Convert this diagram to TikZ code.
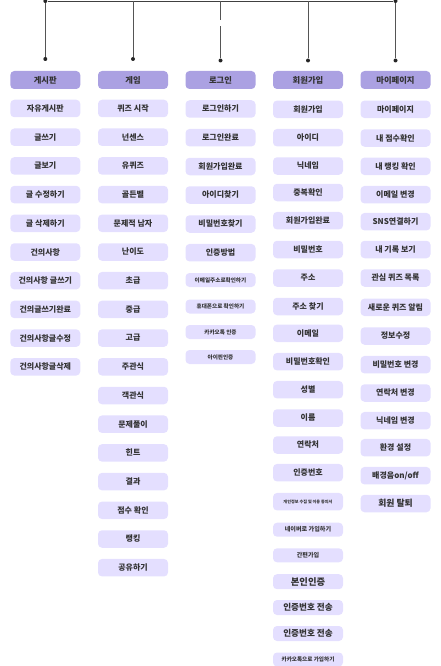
\documentclass[tikz,border=0pt]{standalone}
\usepackage{fontspec}
\setmainfont{Noto Sans CJK KR}
\definecolor{hdrfill}{HTML}{ABA1E2}
\definecolor{itmfill}{HTML}{E4DFFF}
\definecolor{txt}{HTML}{333333}
\definecolor{linec}{HTML}{555555}
\begin{document}
\begin{tikzpicture}[x=1pt,y=-1pt,
  base/.style={rectangle, rounded corners=4pt, minimum width=70pt, inner sep=0pt, text=txt, font=\fontsize{8}{9}\selectfont\bfseries},
  hdr/.style={base, fill=hdrfill, minimum height=18pt, font=\fontsize{8.3}{9}\selectfont\bfseries},
  itm/.style={base, fill=itmfill, minimum height=17.5pt},
  sm/.style={itm, minimum height=14pt, font=\fontsize{5.6}{6}\selectfont\bfseries},
  tiny/.style={itm, font=\fontsize{4.1}{5}\selectfont\bfseries},
  big/.style={itm, minimum height=15pt, font=\fontsize{8.6}{9}\selectfont\bfseries},
  dot/.style={circle, fill=black!85, inner sep=0pt, minimum size=4pt},
  conn/.style={draw=linec, line width=0.9pt}
]
\useasboundingbox (0,0) rectangle (441,666);

% connectors
\node[dot] (t1) at (45.3,1) {};
\node[dot] (t5) at (395.5,1) {};
\coordinate (t2) at (133,1);
\coordinate (t3) at (220.5,1);
\coordinate (t4) at (308,1);
\coordinate (g1) at (220.5,20.5);
\coordinate (g2) at (220.5,26.5);
\node[dot] (d1) at (45.3,59) {};
\node[dot] (d2) at (133,59) {};
\node[dot] (d3) at (220.5,60.5) {};
\node[dot] (d4) at (308,60.5) {};
\node[dot] (d5) at (395.5,60.5) {};
\draw[draw=black!75, line width=0.9pt] (t1) -- (t5);
\draw[conn] (t1) -- (d1);
\draw[conn] (t2) -- (d2);
\draw[conn] (t3) -- (g1);
\draw[conn] (g2) -- (d3);
\draw[conn] (t4) -- (d4);
\draw[conn] (t5) -- (d5);

% headers
\node[hdr] (h1) at (45.3,80) {게시판};
\node[hdr] (h2) at (133,80) {게임};
\node[hdr] (h3) at (220.5,80) {로그인};
\node[hdr] (h4) at (308,80) {회원가입};
\node[hdr] (h5) at (395.5,80) {마이페이지};

% column 1
\node[itm] (a1) at (45.3,108.5) {자유게시판};
\node[itm] (a2) at (45.3,137.2) {글쓰기};
\node[itm] (a3) at (45.3,165.9) {글보기};
\node[itm] (a4) at (45.3,194.6) {글 수정하기};
\node[itm] (a5) at (45.3,223.3) {글 삭제하기};
\node[itm] (a6) at (45.3,252.0) {건의사항};
\node[itm] (a7) at (45.3,280.7) {건의사항 글쓰기};
\node[itm] (a8) at (45.3,309.4) {건의글쓰기완료};
\node[itm] (a9) at (45.3,338.1) {건의사항글수정};
\node[itm] (a10) at (45.3,366.8) {건의사항글삭제};

% column 2
\node[itm] (b1) at (133,108.5) {퀴즈 시작};
\node[itm] (b2) at (133,137.2) {넌센스};
\node[itm] (b3) at (133,165.9) {유퀴즈};
\node[itm] (b4) at (133,194.6) {골든벨};
\node[itm] (b5) at (133,223.3) {문제적 남자};
\node[itm] (b6) at (133,252.0) {난이도};
\node[itm] (b7) at (133,280.7) {초급};
\node[itm] (b8) at (133,309.4) {중급};
\node[itm] (b9) at (133,338.1) {고급};
\node[itm] (b10) at (133,366.8) {주관식};
\node[itm] (b11) at (133,395.5) {객관식};
\node[itm] (b12) at (133,424.2) {문제풀이};
\node[itm] (b13) at (133,452.9) {힌트};
\node[itm] (b14) at (133,481.6) {결과};
\node[itm] (b15) at (133,510.3) {점수 확인};
\node[itm] (b16) at (133,539.0) {랭킹};
\node[itm] (b17) at (133,567.7) {공유하기};

% column 3
\node[itm] (c1) at (220.5,109) {로그인하기};
\node[itm] (c2) at (220.5,137.7) {로그인완료};
\node[itm] (c3) at (220.5,166.5) {회원가입완료};
\node[itm] (c4) at (220.5,195) {아이디찾기};
\node[itm] (c5) at (220.5,224) {비밀번호찾기};
\node[itm] (c6) at (220.5,252.7) {인증방법};
\node[sm] (c7) at (220.5,280) {이메일주소로확인하기};
\node[sm] (c8) at (220.5,306.5) {휴대폰으로 확인하기};
\node[sm] (c9) at (220.5,332) {카카오톡 인증};
\node[sm] (c10) at (220.5,357) {아이핀인증};

% column 4
\node[itm] (e1) at (308,109.3) {회원가입};
\node[itm] (e2) at (308,137.7) {아이디};
\node[itm] (e3) at (308,166) {닉네임};
\node[itm] (e4) at (308,192.5) {중복확인};
\node[itm] (e5) at (308,220.7) {회원가입완료};
\node[itm] (e6) at (308,249.5) {비밀번호};
\node[itm] (e7) at (308,278) {주소};
\node[itm] (e8) at (308,306.5) {주소 찾기};
\node[itm] (e9) at (308,333.3) {이메일};
\node[itm] (e10) at (308,361.7) {비밀번호확인};
\node[itm] (e11) at (308,389.7) {성별};
\node[itm] (e12) at (308,418) {이름};
\node[itm] (e13) at (308,445) {연락처};
\node[itm] (e14) at (308,472.7) {인증번호};
\node[tiny] (e15) at (308,501.7) {개인정보 수집 및 이용 동의서};
\node[sm, font=\fontsize{6.1}{7}\selectfont\bfseries] (e16) at (308,529.7) {네이버로 가입하기};
\node[sm, font=\fontsize{6.1}{7}\selectfont\bfseries] (e17) at (308,555.3) {간편가입};
\node[big, font=\fontsize{9.3}{10}\selectfont\bfseries] (e18) at (308,581.7) {본인인증};
\node[big] (e19) at (308,607.5) {인증번호 전송};
\node[big] (e20) at (308,633.5) {인증번호 전송};
\node[sm] (e21) at (308,659.5) {카카오톡으로 가입하기};

% column 5
\node[itm] (f1) at (395.5,109.3) {마이페이지};
\node[itm] (f2) at (395.5,138) {내 점수확인};
\node[itm] (f3) at (395.5,166.3) {내 랭킹 확인};
\node[itm] (f4) at (395.5,194.7) {이메일 변경};
\node[itm] (f5) at (395.5,221.7) {SNS연결하기};
\node[itm] (f6) at (395.5,249.5) {내 기록 보기};
\node[itm] (f7) at (395.5,278) {관심 퀴즈 목록};
\node[itm] (f8) at (395.5,307.3) {새로운 퀴즈 알림};
\node[itm] (f9) at (395.5,336) {정보수정};
\node[itm] (f10) at (395.5,364.7) {비밀번호 변경};
\node[itm] (f11) at (395.5,393) {연락처 변경};
\node[itm] (f12) at (395.5,420.7) {닉네임 변경};
\node[itm] (f13) at (395.5,447.7) {환경 설정};
\node[itm] (f14) at (395.5,475.7) {배경음on/off};
\node[itm, font=\fontsize{8.8}{10}\selectfont\bfseries] (f15) at (395.5,503.5) {회원 탈퇴};
\end{tikzpicture}
\end{document}
